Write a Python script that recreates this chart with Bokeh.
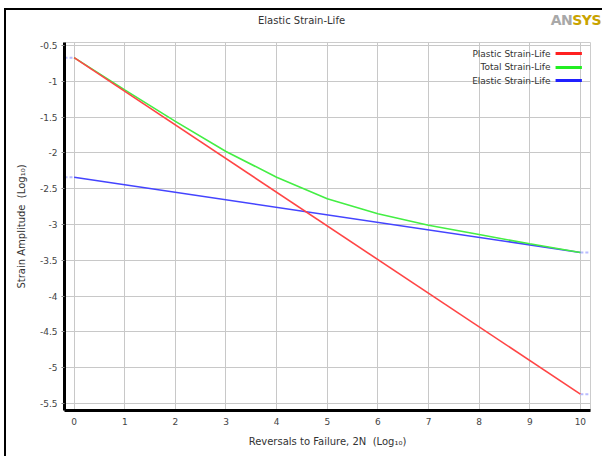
from bokeh.plotting import figure
from bokeh.models import FixedTicker, Label, Range1d, Div
from bokeh.layouts import column
from bokeh.embed import file_html
from bokeh.resources import INLINE

# ---- data (log10 values) ----
reversals = [0, 1, 2, 3, 4, 5, 6, 7, 8, 9, 10]
total_strain = [-0.67, -1.12, -1.56, -1.98, -2.34, -2.64, -2.85, -3.01, -3.14, -3.27, -3.39]
line_x = [0, 10]
plastic_strain = [-0.67, -5.37]
elastic_strain = [-2.34, -3.39]

x_ticks = [0, 1, 2, 3, 4, 5, 6, 7, 8, 9, 10]
y_ticks = [-0.5, -1, -1.5, -2, -2.5, -3, -3.5, -4, -4.5, -5, -5.5]
y_tick_labels = ["-0.5", "-1", "-1.5", "-2", "-2.5", "-3", "-3.5", "-4", "-4.5", "-5", "-5.5"]

legend_names = ["Plastic Strain-Life", "Total Strain-Life", "Elastic Strain-Life"]
legend_colors = ["#ff2020", "#22ee22", "#2020ff"]
line_colors = ["#ff4545", "#44ee44", "#4444ff"]

title_text = "Elastic Strain-Life"
FONT = "DejaVu Sans"

HEADER_H = 22
p = figure(width=596, height=446 - HEADER_H, output_backend="svg", toolbar_location=None,
           x_range=Range1d(-0.19, 10.2), y_range=Range1d(-5.598, -0.458),
           min_border_left=58, min_border_right=12, min_border_top=32 - HEADER_H,
           min_border_bottom=46,
           background_fill_color="white", border_fill_color="white")
p.outline_line_color = "#cccccc"

# grids
p.xgrid.ticker = FixedTicker(ticks=x_ticks)
p.ygrid.ticker = FixedTicker(ticks=y_ticks)
for g in (p.xgrid, p.ygrid):
    g.grid_line_color = "#c8c8c8"
    g.grid_line_width = 1

# axes
p.xaxis.ticker = FixedTicker(ticks=x_ticks)
p.yaxis.ticker = FixedTicker(ticks=y_ticks)
p.yaxis.major_label_overrides = {t: l for t, l in zip(y_ticks, y_tick_labels)}
p.xaxis.major_label_overrides = {t: str(t) for t in x_ticks}
for ax in (p.xaxis, p.yaxis):
    ax.axis_line_color = "black"
    ax.axis_line_width = 3
    ax.minor_tick_line_color = None
    ax.major_tick_in = 0
    ax.major_label_text_font = FONT
    ax.major_label_text_font_size = "9px"
    ax.major_label_text_color = "#444444"
    ax.axis_label_text_font = FONT
    ax.axis_label_text_font_size = "10px"
    ax.axis_label_text_font_style = "normal"
    ax.axis_label_text_color = "#333333"
p.yaxis.major_tick_out = 3
p.yaxis.major_tick_line_color = "#888888"
p.yaxis.major_label_standoff = 4
p.xaxis.major_tick_out = 0
p.xaxis.major_tick_line_color = None
p.xaxis.major_label_standoff = 7
p.xaxis.axis_label = "Reversals to Failure, 2N\u00a0\u00a0(Log\u2081\u2080)"
p.yaxis.axis_label = "Strain Amplitude\u00a0\u00a0(Log\u2081\u2080)"
p.xaxis.axis_label_standoff = 8
p.yaxis.axis_label_standoff = 10

# faint dashed stubs beyond the data ends
p.line([-0.19, line_x[0]], [plastic_strain[0], plastic_strain[0]], color="#b8bcff", line_width=2, line_dash="3 2")
p.line([-0.19, line_x[0]], [elastic_strain[0], elastic_strain[0]], color="#b8bcff", line_width=2, line_dash="3 2")
p.line([line_x[-1], 10.2], [elastic_strain[-1], elastic_strain[-1]], color="#b8bcff", line_width=2, line_dash="3 2")
p.line([line_x[-1], 10.2], [plastic_strain[-1], plastic_strain[-1]], color="#b8bcff", line_width=2, line_dash="3 2")

# curves
p.line(line_x, elastic_strain, color=line_colors[2], line_width=1.6)
p.line(reversals, total_strain, color=line_colors[1], line_width=1.6)
p.line(line_x, plastic_strain, color=line_colors[0], line_width=1.6)

# legend (text right-aligned, swatch on the right)
legend_rows = [-0.612, -0.807, -0.989]
for name, col, yy in zip(legend_names, legend_colors, legend_rows):
    p.add_layout(Label(x=9.41, y=yy, text=name, text_align="right", text_baseline="middle",
                       text_font=FONT, text_font_size="9px", text_color="#333333"))
    p.line([9.51, 10.03], [yy, yy], color=col, line_width=3)

# header: title and logo
header_html = (
    '<div style="position:relative;width:596px;height:%dpx;font-family:\'DejaVu Sans\';">'
    '<span style="position:absolute;left:252px;top:4px;font-size:10px;color:#333;white-space:nowrap;">%s</span>'
    '<span style="position:absolute;right:1px;top:0px;font-size:14px;font-weight:bold;white-space:nowrap;letter-spacing:-0.5px;">'
    '<span style="color:#a8a8a8;">AN</span><span style="color:#c9a300;">SYS</span></span>'
    '</div>' % (HEADER_H, title_text)
)
header = Div(text=header_html, width=596, height=HEADER_H, margin=0)
p.margin = 0

layout = column(header, p, spacing=0, margin=0)
layout.styles = {"margin-left": "4px", "margin-top": "8px",
                 "border-left": "2px solid black", "border-top": "2px solid black",
                 "background-color": "white"}

open("out.html", "w").write(file_html(layout, INLINE))
